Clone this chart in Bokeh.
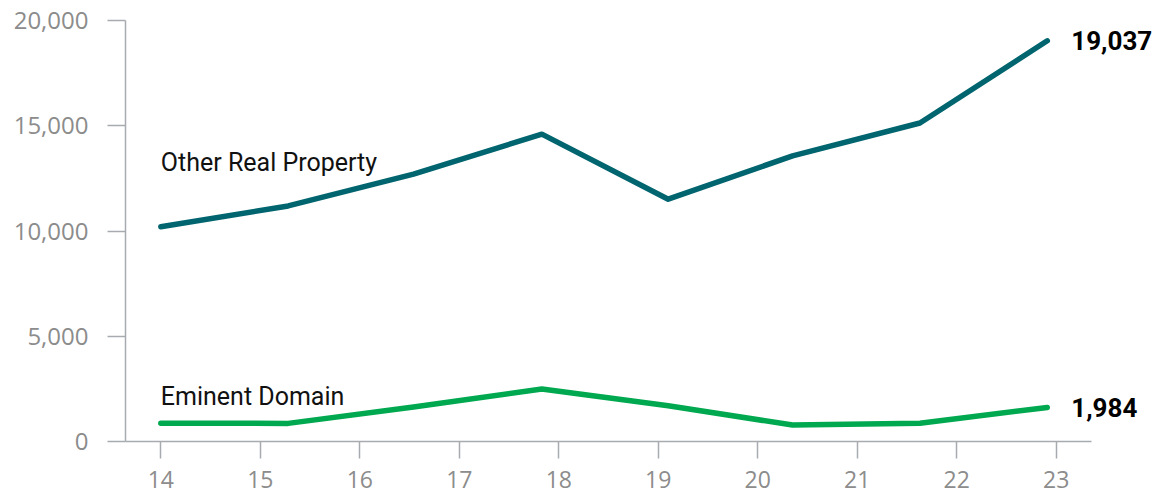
from bokeh.plotting import figure
from bokeh.models import FixedTicker, Range1d, NumeralTickFormatter
from bokeh.core.properties import value
from bokeh.embed import file_html
from bokeh.resources import INLINE

# ---- data ----
x_pos = [14.0, 15.28, 16.54, 17.83, 19.10, 20.35, 21.63, 22.91]
other_real_property = [10200, 11190, 12700, 14600, 11510, 13570, 15130, 19037]
eminent_domain = [870, 860, 1640, 2490, 1700, 780, 870, 1620]
series_names = ["Other Real Property", "Eminent Domain"]
end_labels = ["19,037", "1,984"]
x_ticks = [14, 15, 16, 17, 18, 19, 20, 21, 22, 23]
y_ticks = [0, 5000, 10000, 15000, 20000]

TEAL = "#00656F"
GREEN = "#00A84F"
AXIS = "#A7ABB0"
TICKTXT = "#8C8C8C"

p = figure(width=1158, height=499, output_backend="svg", toolbar_location=None,
           x_range=Range1d(13.645, 24.028), y_range=Range1d(0, 20000))
p.min_border_left = 125
p.min_border_right = 0
p.min_border_top = 20
p.min_border_bottom = 58
p.outline_line_color = None
p.xgrid.grid_line_color = None
p.ygrid.grid_line_color = None
p.background_fill_color = "white"
p.border_fill_color = "white"

# axes
xa = p.xaxis[0]
xa.ticker = FixedTicker(ticks=x_ticks)
xa.bounds = (13.645, 23.355)
xa.axis_line_color = AXIS
xa.axis_line_width = 1.5
xa.major_tick_line_color = AXIS
xa.major_tick_line_width = 1.5
xa.major_tick_in = 0
xa.major_tick_out = 17
xa.minor_tick_line_color = None
xa.major_label_standoff = 12
xa.major_label_text_font = "Open Sans"
xa.major_label_text_font_size = "23px"
xa.major_label_text_color = TICKTXT

ya = p.yaxis[0]
ya.ticker = FixedTicker(ticks=y_ticks)
ya.formatter = NumeralTickFormatter(format="0,0")
ya.axis_line_color = AXIS
ya.axis_line_width = 1.5
ya.major_tick_line_color = AXIS
ya.major_tick_line_width = 1.5
ya.major_tick_in = 0
ya.major_tick_out = 18
ya.minor_tick_line_color = None
ya.major_label_standoff = 19
ya.major_label_text_font = "Open Sans"
ya.major_label_text_font_size = "24px"
ya.major_label_text_color = TICKTXT

# lines
p.line(x_pos, other_real_property, line_color=TEAL, line_width=5.5,
       line_cap="round", line_join="round")
p.line(x_pos, eminent_domain, line_color=GREEN, line_width=5.5,
       line_cap="round", line_join="round")

# series name labels
p.text(x=[x_pos[0]], y=[other_real_property[0]], text=[series_names[0]],
       text_font=value("Roboto"), text_font_size="25px", text_color="#111111",
       text_baseline="alphabetic", text_align="left", y_offset=-64)
p.text(x=[x_pos[0]], y=[eminent_domain[0]], text=[series_names[1]],
       text_font=value("Roboto"), text_font_size="25px", text_color="#111111",
       text_baseline="alphabetic", text_align="left", y_offset=-27)

# end value labels
p.text(x=[x_pos[-1], x_pos[-1]], y=[other_real_property[-1], eminent_domain[-1]],
       text=end_labels, text_font=value("Roboto"), text_font_size="26px",
       text_font_style="bold", text_color="#000000",
       text_baseline="middle", text_align="left", x_offset=24, y_offset=0)

open("out.html", "w").write(file_html(p, INLINE))
